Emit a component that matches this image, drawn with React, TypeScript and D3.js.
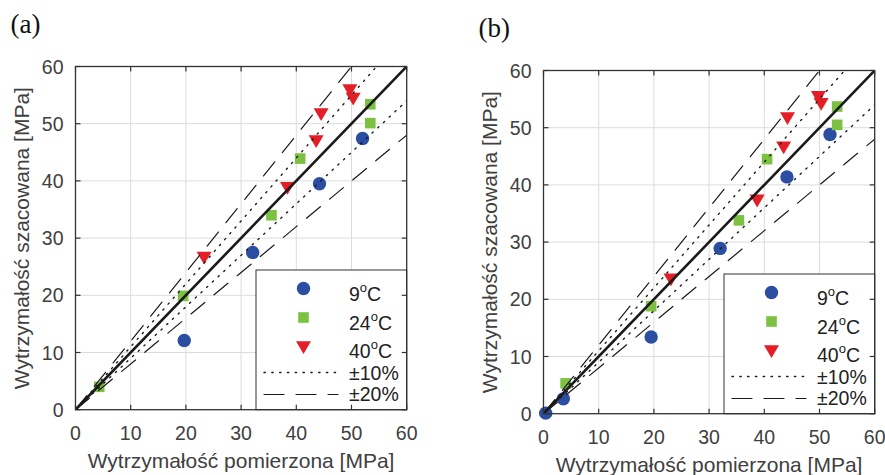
import React from "react";
import * as d3 from "d3";

// ---- data ----
const ticks = [0, 10, 20, 30, 40, 50, 60];
const seriesNames = ["9", "24", "40"];
const seriesColors = ["#2b4ea3", "#7cc142", "#e41e26"];

// Panel (a)
const a9x = [19.7, 32.1, 44.2, 52.0];
const a9y = [12.1, 27.5, 39.5, 47.4];
const a24x = [4.3, 19.5, 35.5, 40.7, 53.4, 53.4];
const a24y = [4.0, 19.9, 34.0, 43.9, 53.4, 50.1];
const a40x = [23.3, 38.4, 43.6, 44.5, 49.7, 50.3];
const a40y = [26.5, 38.7, 46.9, 51.6, 55.8, 54.3];

// Panel (b)
const b9x = [0.4, 3.6, 19.5, 32.0, 44.1, 51.9];
const b9y = [0.1, 2.6, 13.4, 28.9, 41.4, 48.8];
const b24x = [4.0, 19.5, 35.4, 40.5, 53.2, 53.2];
const b24y = [5.3, 18.8, 33.8, 44.5, 53.7, 50.5];
const b40x = [23.1, 38.7, 43.5, 44.2, 49.8, 50.3];
const b40y = [23.4, 37.2, 46.5, 51.6, 55.3, 54.1];

// reference lines: y = f * x
const lineFactors = [1, 1.1, 0.9, 1.2, 0.8];
const bandLabels = ["±10%", "±20%"];

const xLabel = "Wytrzymałość pomierzona [MPa]";
const yLabel = "Wytrzymałość szacowana [MPa]";

const W = 885;
const H = 475;
const PW = 331.2;
const PH = 343.2;
const FONT = "'Liberation Sans', Arial, Helvetica, sans-serif";
const TXT = "#404040";

type Pt = { x: number; y: number };
const zip = (xs: number[], ys: number[]): Pt[] => xs.map((x, i) => ({ x, y: ys[i] }));

function Marker({ kind, cx, cy, color }: { kind: number; cx: number; cy: number; color: string }) {
  if (kind === 0) return <circle cx={cx} cy={cy} r={6.7} fill={color} />;
  if (kind === 1) return <rect x={cx - 5.3} y={cy - 5.3} width={10.6} height={10.6} fill={color} />;
  return (
    <path
      d={`M${cx - 7.5},${cy - 6.3}L${cx + 7.5},${cy - 6.3}L${cx},${cy + 6.5}Z`}
      fill={color}
    />
  );
}

function lineStyle(f: number) {
  if (f === 1) return { stroke: "#1a1a1a", width: 2.6, dash: undefined as string | undefined };
  if (Math.abs(f - 1) < 0.15) return { stroke: "#1a1a1a", width: 1.4, dash: "1.4,6.4" };
  return { stroke: "#1a1a1a", width: 1.2, dash: "18,12" };
}

function Panel({
  ox,
  oy,
  id,
  label,
  series,
}: {
  ox: number;
  oy: number;
  id: string;
  label: string;
  series: Pt[][];
}) {
  const x = d3.scaleLinear().domain([0, 60]).range([ox, ox + PW]);
  const y = d3.scaleLinear().domain([0, 60]).range([oy + PH, oy]);
  const line = d3
    .line<Pt>()
    .x((d) => x(d.x))
    .y((d) => y(d.y));
  const tl = 5;
  const lgL = ox + 180.5;
  const lgT = oy + 203.5;
  const lgW = ox + PW - lgL;
  const lgH = oy + PH - lgT;
  const symX = lgL + 47.5;
  const txtX = lgL + 93;
  const rowsSym = [18.5, 47.5, 77.5, 102.5, 124.5];
  const rowsTxt = [31, 60, 87.5, 110, 131];
  return (
    <g>
      <defs>
        <clipPath id={`clip-${id}`}>
          <rect x={ox} y={oy} width={PW} height={PH} />
        </clipPath>
      </defs>
      <text
        x={ox - 65}
        y={oy - 34}
        fontFamily="'Liberation Serif', 'Times New Roman', serif"
        fontSize={27}
        fill="#111"
      >
        {label}
      </text>
      <rect x={ox} y={oy} width={PW} height={PH} fill="#fff" />
      {/* grid */}
      {ticks.slice(1, -1).map((t) => (
        <g key={`g${t}`}>
          <line x1={x(t)} x2={x(t)} y1={oy} y2={oy + PH} stroke="#dcdcdc" strokeWidth={1} />
          <line x1={ox} x2={ox + PW} y1={y(t)} y2={y(t)} stroke="#dcdcdc" strokeWidth={1} />
        </g>
      ))}
      {/* markers */}
      {series.map((pts, si) =>
        pts.map((p, i) => (
          <Marker key={`m${si}-${i}`} kind={si} cx={x(p.x)} cy={y(p.y)} color={seriesColors[si]} />
        ))
      )}
      {/* reference lines */}
      <g clipPath={`url(#clip-${id})`}>
        {lineFactors.map((f) => {
          const s = lineStyle(f);
          return (
            <path
              key={`l${f}`}
              d={line([
                { x: 0, y: 0 },
                { x: 60, y: 60 * f },
              ]) as string}
              fill="none"
              stroke={s.stroke}
              strokeWidth={s.width}
              strokeDasharray={s.dash}
              strokeLinecap={f === 1 ? "butt" : "round"}
            />
          );
        })}
      </g>
      {/* legend */}
      <rect x={lgL} y={lgT} width={lgW} height={lgH} fill="#fff" stroke="#333" strokeWidth={1} />
      {seriesNames.map((n, i) => (
        <g key={`lg${i}`}>
          <Marker kind={i} cx={symX} cy={lgT + rowsSym[i]} color={seriesColors[i]} />
          <text x={txtX} y={lgT + rowsTxt[i]} fontFamily={FONT} fontSize={19.5} fill="#222">
            {n}
            <tspan fontSize={13} dy={-9}>
              o
            </tspan>
            <tspan dy={9}>C</tspan>
          </text>
        </g>
      ))}
      {bandLabels.map((b, i) => {
        const s = lineStyle(i === 0 ? 1.1 : 1.2);
        const yy = lgT + rowsSym[3 + i];
        return (
          <g key={`bl${i}`}>
            <line
              x1={lgL + 8}
              x2={lgL + 82}
              y1={yy}
              y2={yy}
              stroke={s.stroke}
              strokeWidth={s.width}
              strokeDasharray={i === 0 ? "1.4,6.4" : "20,12"}
              strokeLinecap="round"
            />
            <text x={txtX} y={lgT + rowsTxt[3 + i]} fontFamily={FONT} fontSize={19.5} fill="#222">
              {b}
            </text>
          </g>
        );
      })}
      {/* axes box + ticks */}
      <rect x={ox} y={oy} width={PW} height={PH} fill="none" stroke="#333" strokeWidth={1.3} />
      {ticks.map((t) => (
        <g key={`t${t}`}>
          <line x1={x(t)} x2={x(t)} y1={oy + PH} y2={oy + PH - tl} stroke="#333" strokeWidth={1.2} />
          <line x1={x(t)} x2={x(t)} y1={oy} y2={oy + tl} stroke="#333" strokeWidth={1.2} />
          <line x1={ox} x2={ox + tl} y1={y(t)} y2={y(t)} stroke="#333" strokeWidth={1.2} />
          <line x1={ox + PW} x2={ox + PW - tl} y1={y(t)} y2={y(t)} stroke="#333" strokeWidth={1.2} />
          <text
            x={x(t)}
            y={oy + PH + 30}
            textAnchor="middle"
            fontFamily={FONT}
            fontSize={19.5}
            fill={TXT}
          >
            {t}
          </text>
          <text
            x={ox - 12}
            y={y(t) + 7}
            textAnchor="end"
            fontFamily={FONT}
            fontSize={19.5}
            fill={TXT}
          >
            {t}
          </text>
        </g>
      ))}
      <text
        x={ox + PW / 2}
        y={oy + PH + 58.5}
        textAnchor="middle"
        fontFamily={FONT}
        fontSize={21}
        fill={TXT}
      >
        {xLabel}
      </text>
      <text
        transform={`translate(${ox - 47},${oy + PH / 2}) rotate(-90)`}
        textAnchor="middle"
        fontFamily={FONT}
        fontSize={21}
        fill={TXT}
      >
        {yLabel}
      </text>
    </g>
  );
}

export default function App() {
  const seriesA = [zip(a9x, a9y), zip(a24x, a24y), zip(a40x, a40y)];
  const seriesB = [zip(b9x, b9y), zip(b24x, b24y), zip(b40x, b40y)];
  return (
    <svg
      width={W}
      height={H}
      viewBox={`0 0 ${W} ${H}`}
      style={{ position: "absolute", left: 0, top: 0, background: "#fff" }}
    >
      <rect width={W} height={H} fill="#fff" />
      <Panel ox={75.5} oy={66.5} id="a" label="(a)" series={seriesA} />
      <Panel ox={543.5} oy={70.5} id="b" label="(b)" series={seriesB} />
    </svg>
  );
}
